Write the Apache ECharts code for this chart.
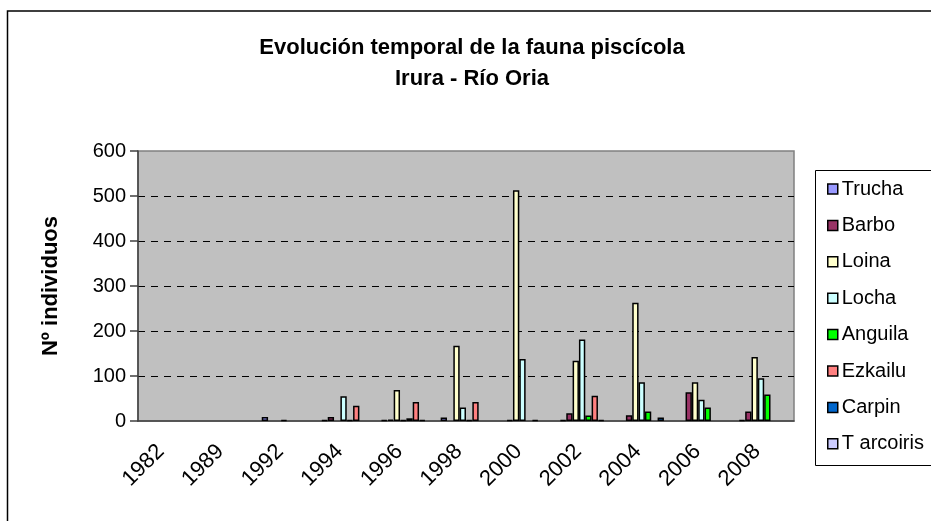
<!DOCTYPE html>
<html>
<head>
<meta charset="utf-8">
<script src="https://cdn.jsdelivr.net/npm/echarts@6/dist/echarts.min.js"></script>
<style>
  html, body { margin: 0; padding: 0; background: #fff; }
  #chart { width: 931px; height: 521px; }
</style>
</head>
<body>
<div id="chart"></div>
<script>
const years = ['1982', '1989', '1992', '1994', '1996', '1998', '2000', '2002', '2004', '2006', '2008'];
const names = ['Trucha', 'Barbo', 'Loina', 'Locha', 'Anguila', 'Ezkailu', 'Carpin', 'T arcoiris'];
const trucha    = [0, 0, 9, 2, 2, 8, 0, 2, 0, 0, 2];
const barbo     = [0, 0, 0, 9, 3, 0, 2, 17, 13, 64, 21];
const loina     = [0, 0, 0, 0, 69, 167, 513, 134, 263, 86, 142];
const locha     = [0, 0, 2, 55, 2, 30, 138, 181, 86, 47, 95];
const anguila   = [0, 0, 0, 2, 6, 2, 0, 12, 21, 30, 59];
const ezkailu   = [0, 0, 0, 34, 42, 42, 2, 56, 0, 0, 0];
const carpin    = [0, 0, 0, 0, 2, 0, 0, 2, 8, 0, 0];
const tarcoiris = [0, 0, 0, 0, 0, 0, 0, 0, 0, 0, 0];
const yTicks = [0, 100, 200, 300, 400, 500, 600];

const values = [trucha, barbo, loina, locha, anguila, ezkailu, carpin, tarcoiris];
const colors = ['#9999FF', '#993366', '#FFFFCC', '#CCFFFF', '#00FF00', '#FF8080', '#0066CC', '#CCCCFF'];

var myChart = echarts.init(document.getElementById('chart'), null, { renderer: 'canvas' });

var series = names.map(function (n, i) {
  return {
    name: n,
    type: 'bar',
    barGap: 0,
    barCategoryGap: '15%',
    // zero values draw nothing, like the original
    data: values[i].map(function (v) { return v === 0 ? null : v; }),
    itemStyle: { color: colors[i], borderColor: '#000', borderWidth: 1.5 }
  };
});

var option = {
  animation: false,
  backgroundColor: '#fff',
  title: {
    text: 'Evolución temporal de la fauna piscícola\nIrura - Río Oria',
    left: 467,
    textAlign: 'center',
    top: 27,
    textStyle: { fontFamily: 'Liberation Sans', fontSize: 22, fontWeight: 'bold', color: '#000', lineHeight: 31 }
  },
  legend: {
    orient: 'vertical',
    left: 822,
    top: 174,
    itemWidth: 10,
    itemHeight: 10,
    itemGap: 16.4,
    icon: 'rect',
    data: names,
    itemStyle: { borderColor: '#000', borderWidth: 1.5 },
    textStyle: { fontFamily: 'Liberation Sans', fontSize: 20, color: '#000', lineHeight: 20, padding: [0, 0, 0, -1] }
  },
  grid: {
    left: 138, right: 137, top: 151, bottom: 100,
    show: true,
    backgroundColor: '#C0C0C0',
    borderColor: '#808080',
    borderWidth: 1.5
  },
  xAxis: {
    type: 'category',
    data: years,
    axisLine: { lineStyle: { color: '#404040', width: 1.5 } },
    axisTick: { length: 7, lineStyle: { color: '#404040', width: 1.5 } },
    axisLabel: {
      rotate: 45, margin: 20,
      padding: [0, 10, 0, 0],
      fontFamily: 'Liberation Sans', fontSize: 22, color: '#000'
    }
  },
  yAxis: {
    type: 'value',
    min: yTicks[0],
    max: yTicks[yTicks.length - 1],
    interval: 100,
    name: 'Nº individuos',
    nameLocation: 'middle',
    nameGap: 76,
    nameTextStyle: { fontFamily: 'Liberation Sans', fontSize: 22, fontWeight: 'bold', color: '#000' },
    axisLine: { show: true, lineStyle: { color: '#404040', width: 1.5 } },
    axisTick: { show: true, length: 8, lineStyle: { color: '#404040', width: 1.5 } },
    axisLabel: { margin: 12, fontFamily: 'Liberation Sans', fontSize: 20, color: '#000' },
    splitLine: {
      showMinLine: false,
      showMaxLine: false,
      lineStyle: { color: '#000', type: [7, 6], width: 1 }
    }
  },
  graphic: [
    {
      type: 'rect',
      shape: { x: 7.5, y: 11, width: 940, height: 540 },
      style: { fill: 'none', stroke: '#000', lineWidth: 1.5 },
      silent: true, z: -1
    },
    {
      type: 'rect',
      shape: { x: 815.5, y: 170.5, width: 130, height: 295 },
      style: { fill: '#fff', stroke: '#000', lineWidth: 1 },
      silent: true, z: 0
    }
  ],
  series: series
};

myChart.setOption(option);
window.addEventListener('resize', myChart.resize);
</script>
</body>
</html>
